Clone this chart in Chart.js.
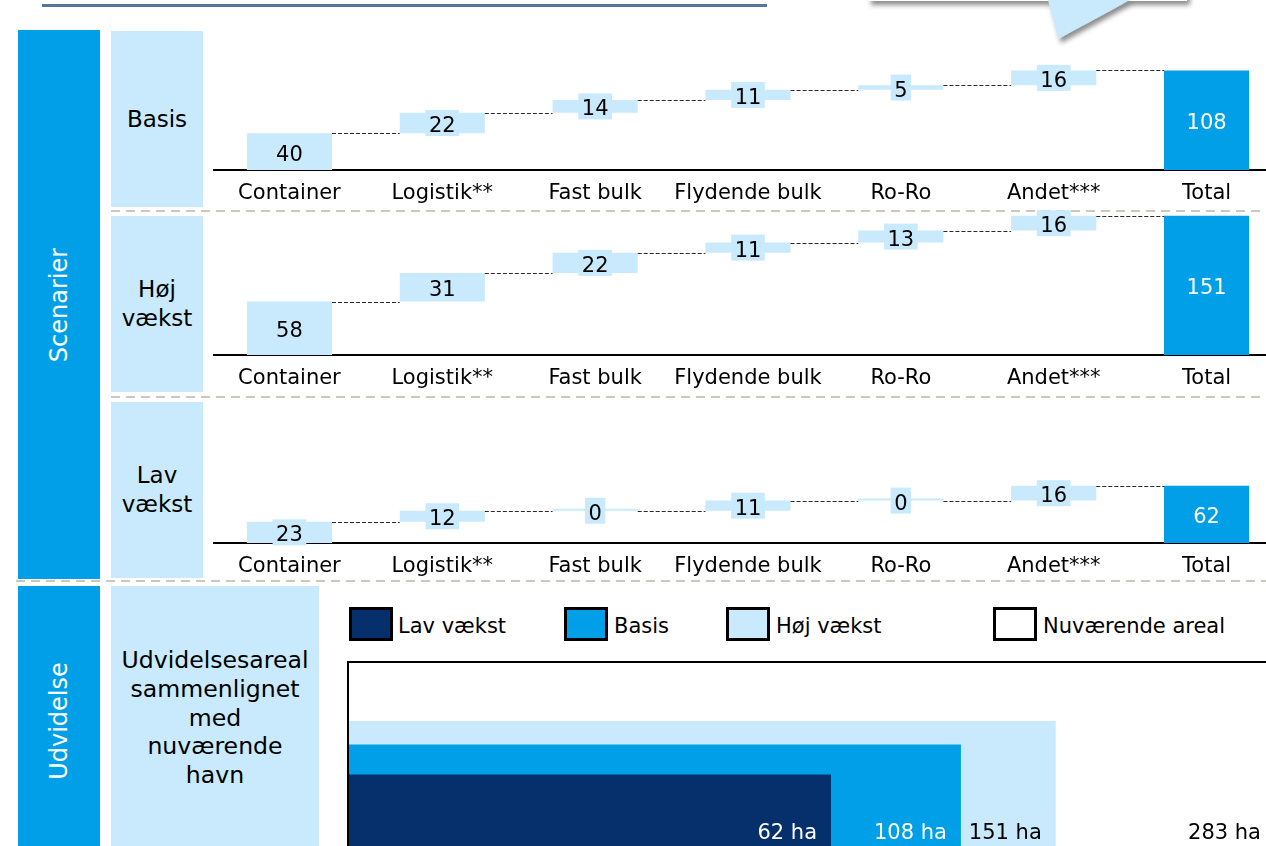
<!DOCTYPE html>
<html>
<head>
<meta charset="utf-8">
<script src="https://cdn.jsdelivr.net/npm/chart.js@4.4.1/dist/chart.umd.min.js"></script>
<style>
html,body{margin:0;padding:0;width:1266px;height:846px;overflow:hidden;background:#fff;font-family:"DejaVu Sans",Verdana,sans-serif;color:#000;}
.abs{position:absolute;}
.bar{background:#009fe8;color:#fff;display:flex;align-items:center;justify-content:center;}
.bar span{display:block;transform:rotate(-90deg);white-space:nowrap;font-size:24px;}
.box{background:#c8eafc;display:flex;align-items:center;justify-content:center;text-align:center;font-size:23px;line-height:29px;}
.sep{height:2px;background:repeating-linear-gradient(90deg,#cdc8bc 0 9px,transparent 9px 15px);}
.lg-sq{position:absolute;width:44px;height:34px;box-sizing:border-box;border:3px solid #000;}
.lg-tx{position:absolute;font-size:21px;line-height:26px;white-space:nowrap;}
</style>
</head>
<body>
<!-- title rule and callout fragments -->
<div class="abs" style="left:42px;top:4px;width:725px;height:3px;background:#56769b;"></div>
<svg class="abs" style="left:840px;top:0;" width="426" height="60">
  <defs>
    <filter id="sh" x="-20%" y="-50%" width="140%" height="200%">
      <feDropShadow dx="3" dy="4" stdDeviation="2.5" flood-color="#000" flood-opacity="0.45"/>
    </filter>
  </defs>
  <rect x="28" y="-60" width="319" height="61" fill="#fff" filter="url(#sh)"/>
  <polygon points="208,0 290,0 218,39" fill="#c8eafc" filter="url(#sh)"/>
</svg>

<!-- left structure -->
<div class="abs bar" style="left:18px;top:30px;width:82px;height:549px;"><span>Scenarier</span></div>
<div class="abs bar" style="left:18px;top:586px;width:82px;height:270px;"><span>Udvidelse</span></div>

<div class="abs box" style="left:111px;top:31px;width:92px;height:176px;">Basis</div>
<div class="abs box" style="left:111px;top:216px;width:92px;height:176px;">Høj<br>vækst</div>
<div class="abs box" style="left:111px;top:402px;width:92px;height:176px;">Lav<br>vækst</div>
<div class="abs box" style="left:111px;top:586px;width:208px;height:264px;font-size:23.6px;line-height:28.7px;">Udvidelsesareal<br>sammenlignet<br>med<br>nuværende<br>havn</div>

<div class="abs sep" style="left:111px;top:210px;width:1155px;"></div>
<div class="abs sep" style="left:111px;top:396px;width:1155px;"></div>
<div class="abs sep" style="left:16px;top:580px;width:1250px;"></div>

<!-- waterfall charts -->
<div class="abs" style="left:213px;top:17px;width:1070px;height:190px;"><canvas id="wf0"></canvas></div>
<div class="abs" style="left:213px;top:202px;width:1070px;height:190px;"><canvas id="wf1"></canvas></div>
<div class="abs" style="left:213px;top:390px;width:1070px;height:190px;"><canvas id="wf2"></canvas></div>

<!-- bottom legend -->
<div id="legend"></div>

<!-- bottom area chart -->
<div class="abs" style="left:346px;top:658px;width:1000px;height:192px;"><canvas id="area"></canvas></div>

<script>
// ---------- data ----------
const categories = ['Container', 'Logistik**', 'Fast bulk', 'Flydende bulk', 'Ro-Ro', 'Andet***', 'Total'];
const basisValues = [40, 22, 14, 11, 5, 16];
const hojValues = [58, 31, 22, 11, 13, 16];
const lavValues = [23, 12, 0, 11, 0, 16];
const scenarioTotals = [108, 151, 62];

const areaLabels = ['Lav vækst', 'Basis', 'Høj vækst', 'Nuværende areal'];
const areaHa = [62, 108, 151, 283];

// ---------- styles ----------
const LIGHT = '#c8eafc', BRIGHT = '#009fe8', NAVY = '#06306c';
const FONT = '"DejaVu Sans", Verdana, sans-serif';
Chart.defaults.font.family = FONT;
Chart.defaults.color = '#000';

const waterfallDecor = {
  id: 'waterfallDecor',
  afterDatasetsDraw(chart) {
    const ctx = chart.ctx;
    const meta = chart.getDatasetMeta(0);
    const ys = chart.scales.y;
    const ds = chart.data.datasets[0];
    const n = meta.data.length;
    ctx.save();
    ctx.strokeStyle = '#2a2a2a';
    ctx.lineWidth = 1;
    ctx.setLineDash([4, 2]);
    for (let i = 0; i < n - 1; i++) {
      const a = meta.data[i], b = meta.data[i + 1];
      const y = Math.round(ys.getPixelForValue(ds.data[i][1])) + 0.5;
      ctx.beginPath();
      ctx.moveTo(a.x + a.width / 2, y);
      ctx.lineTo(b.x - b.width / 2, y);
      ctx.stroke();
    }
    ctx.setLineDash([]);
    ctx.font = '21px ' + FONT;
    ctx.textAlign = 'center';
    ctx.textBaseline = 'alphabetic';
    for (let i = 0; i < n; i++) {
      const bar = meta.data[i];
      const [s, e] = ds.data[i];
      const cy = (ys.getPixelForValue(s) + ys.getPixelForValue(e)) / 2;
      const txt = String(ds.valueLabels[i]);
      const isTotal = i === n - 1;
      if (!isTotal) {
        const w = ctx.measureText(txt).width + 7;
        ctx.fillStyle = LIGHT;
        ctx.fillRect(bar.x - w / 2, cy - 13, w, 26);
      }
      ctx.fillStyle = isTotal ? '#fff' : '#000';
      ctx.fillText(txt, bar.x, cy + 9);
    }
    ctx.restore();
  }
};

function makeWaterfall(id, vals, total) {
  let cum = 0;
  const floating = vals.map(v => { const r = [cum, cum + v]; cum += v; return r; });
  floating.push([0, total]);
  new Chart(document.getElementById(id), {
    type: 'bar',
    data: {
      labels: categories,
      datasets: [{
        data: floating,
        valueLabels: vals.concat([total]),
        backgroundColor: categories.map((c, i) => i === categories.length - 1 ? BRIGHT : LIGHT),
        borderWidth: 0,
        barPercentage: 0.557,
        categoryPercentage: 1,
        minBarLength: 2
      }]
    },
    options: {
      responsive: true, maintainAspectRatio: false, animation: false, events: [],
      layout: { padding: { top: 12, left: 0, right: 0, bottom: 0 } },
      plugins: { legend: { display: false }, tooltip: { enabled: false } },
      scales: {
        x: {
          grid: { display: false, drawTicks: false },
          border: { display: true, color: '#000', width: 2 },
          ticks: { color: '#000', font: { size: 21 }, padding: 11, autoSkip: false, maxRotation: 0 },
          afterFit: s => { s.height = 37; }
        },
        y: { display: false, min: 0, max: 153 }
      }
    },
    plugins: [waterfallDecor]
  });
}

makeWaterfall('wf0', basisValues, scenarioTotals[0]);
makeWaterfall('wf1', hojValues, scenarioTotals[1]);
makeWaterfall('wf2', lavValues, scenarioTotals[2]);

// ---------- bottom: nested area rectangles ----------
const areaColors = [NAVY, BRIGHT, LIGHT, '#ffffff'];
const areaTextColors = ['#fff', '#fff', '#000', '#000'];
const widthExp = 0.43, heightExp = 0.6;  // rectangle area grows with hectares

// legend (HTML)
const legendPos = [[349, 398], [564, 614], [726, 776], [993, 1043]];
const lg = document.getElementById('legend');
areaLabels.forEach((lab, i) => {
  const sq = document.createElement('div');
  sq.className = 'lg-sq';
  sq.style.left = legendPos[i][0] + 'px';
  sq.style.top = '607px';
  sq.style.background = areaColors[i];
  lg.appendChild(sq);
  const tx = document.createElement('div');
  tx.className = 'lg-tx';
  tx.style.left = legendPos[i][1] + 'px';
  tx.style.top = '613px';
  tx.textContent = lab;
  lg.appendChild(tx);
});

const areaDecor = {
  id: 'areaDecor',
  afterDatasetsDraw(chart) {
    const ctx = chart.ctx, xs = chart.scales.x, ys = chart.scales.y, ca = chart.chartArea;
    const dsets = chart.data.datasets;
    ctx.save();
    // outline of current-area frame (last dataset)
    const frame = dsets[dsets.length - 1].data;
    const left = Math.round(xs.getPixelForValue(0)) - 1;
    const top = Math.round(ys.getPixelForValue(frame[0].y));
    const right = xs.getPixelForValue(frame[1].x);
    ctx.strokeStyle = '#000';
    ctx.lineWidth = 2;
    ctx.beginPath();
    ctx.moveTo(left, ca.bottom + 5);
    ctx.lineTo(left, top);
    ctx.lineTo(right, top);
    ctx.lineTo(right, ca.bottom + 5);
    ctx.stroke();
    // labels
    ctx.font = '21px ' + FONT;
    ctx.textAlign = 'right';
    ctx.textBaseline = 'middle';
    dsets.forEach((ds, i) => {
      const xr = xs.getPixelForValue(ds.data[1].x);
      ctx.fillStyle = areaTextColors[i];
      ctx.fillText(areaHa[i] + ' ha', xr - 14, ca.bottom - 16);
    });
    ctx.restore();
  }
};

new Chart(document.getElementById('area'), {
  type: 'line',
  data: {
    datasets: areaHa.map((ha, i) => {
      const w = Math.pow(ha, widthExp), h = Math.pow(ha, heightExp);
      return {
        label: areaLabels[i],
        data: [{ x: 0, y: h }, { x: w, y: h }, { x: w, y: 0 }],
        fill: 'origin',
        backgroundColor: areaColors[i],
        borderColor: 'rgba(0,0,0,0)',
        borderWidth: 0,
        pointRadius: 0,
        tension: 0
      };
    })
  },
  options: {
    responsive: true, maintainAspectRatio: false, animation: false, events: [],
    layout: { padding: { top: 4, left: 3, right: 0, bottom: 0 } },
    plugins: { legend: { display: false }, tooltip: { enabled: false } },
    scales: {
      x: { type: 'linear', display: false, min: 0, max: 12.2 },
      y: { type: 'linear', display: false, min: 0, max: Math.pow(Math.max(...areaHa), heightExp) }
    }
  },
  plugins: [areaDecor]
});
</script>
</body>
</html>
